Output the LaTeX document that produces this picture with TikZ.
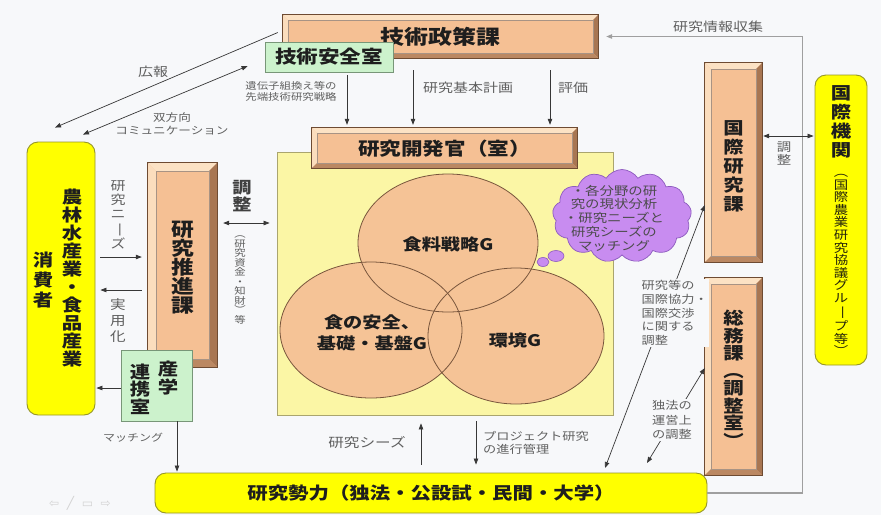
\documentclass[tikz,border=0pt]{standalone}
\usepackage{fontspec}
\usepackage{graphicx}
\setmainfont[FakeStretch=1.2]{Noto Sans CJK JP}
\newfontfamily\symf{DejaVu Sans}
\usetikzlibrary{shapes.symbols,arrows.meta,calc}
\definecolor{bg}{RGB}{247,248,250}
\definecolor{peach}{RGB}{245,192,148}
\definecolor{bevL}{RGB}{252,226,196}
\definecolor{bevD}{RGB}{168,118,82}
\definecolor{bevE}{RGB}{110,75,50}
\definecolor{grn}{RGB}{204,242,204}
\definecolor{grnE}{RGB}{120,150,120}
\definecolor{yel}{RGB}{255,255,0}
\definecolor{yelE}{RGB}{150,150,40}
\definecolor{panelc}{RGB}{251,246,165}
\definecolor{panelE}{RGB}{170,165,110}
\definecolor{circ}{RGB}{245,195,150}
\definecolor{circE}{RGB}{120,85,60}
\definecolor{cloudc}{RGB}{200,140,240}
\definecolor{cloudE}{RGB}{140,90,190}
\definecolor{lbl}{RGB}{95,95,95}
\definecolor{ln}{RGB}{55,55,55}
\definecolor{txt}{RGB}{30,30,30}
\newcommand\bevel[2]{%
 \fill[bevL] (#1.north west) -- (#1.north east) -- ([shift={(-#2,#2)}]#1.north east) -- ([shift={(#2,#2)}]#1.north west) -- cycle;
 \fill[bevL!85!peach] (#1.north west) -- ([shift={(#2,#2)}]#1.north west) -- ([shift={(#2,-#2)}]#1.south west) -- (#1.south west) -- cycle;
 \fill[bevD] (#1.north east) -- (#1.south east) -- ([shift={(-#2,-#2)}]#1.south east) -- ([shift={(-#2,#2)}]#1.north east) -- cycle;
 \fill[bevD!75!peach] (#1.south west) -- (#1.south east) -- ([shift={(-#2,-#2)}]#1.south east) -- ([shift={(#2,-#2)}]#1.south west) -- cycle;
 \draw[bevE, line width=0.9] (#1.north west) rectangle (#1.south east);
 \draw[bevE!60, line width=0.4] ([shift={(#2,#2)}]#1.north west) rectangle ([shift={(-#2,-#2)}]#1.south east);
}
\newcommand\vbar{\rotatebox[origin=c]{-90}{ー}}
\begin{document}
\begin{tikzpicture}[x=1pt,y=-1pt,
  bev/.style={draw=bevE, fill=peach, inner sep=0},
  btxt/.style={text=txt, inner sep=0, align=center, font=\bfseries\fontsize{#1}{#1}\selectfont},
  vtxt/.style 2 args={text=txt, inner sep=0, align=center, font=\bfseries\fontsize{#1}{#2}\selectfont},
  grnbox/.style={draw=grnE, fill=grn, line width=0.8, inner sep=0},
  ybox/.style={draw=yelE, fill=yel, line width=0.9, rounded corners=11pt, inner sep=0},
  vlab/.style 2 args={text=lbl, inner sep=0, align=center, font=\fontsize{#1}{#2}\selectfont},
  lab/.style={vlab={#1}{14}},
  arr/.style={draw=ln, line width=0.7, -{Triangle[length=6pt,width=4.5pt]}},
  darr/.style={draw=ln, line width=0.7, {Triangle[length=6pt,width=4.5pt]}-{Triangle[length=6pt,width=4.5pt]}},
  garr/.style={draw=gray!75, line width=1.1, -{Triangle[length=6pt,width=4.5pt]}}
]
\useasboundingbox (0,0) rectangle (881,515);
\fill[bg] (0,0) rectangle (881,515);

% ---- top policy boxes
\node[bev, minimum width=315, minimum height=43] (gs) at (440.5,36.5) {};
\bevel{gs}{5}
\node[btxt=20] (gst) at (440.5,37) {技術政策課};
\node[grnbox, minimum width=128, minimum height=30, btxt=18] (anz) at (329,57) {技術安全室};

% ---- central panel
\node[draw=panelE, fill=panelc, line width=0.8, minimum width=336, minimum height=263, inner sep=0] (panel) at (445,283.5) {};
\fill[circ] (448,243) ellipse [x radius=90pt, y radius=69pt];
\fill[circ] (371,330) ellipse [x radius=91pt, y radius=68pt];
\fill[circ] (516,336) ellipse [x radius=88pt, y radius=68pt];
\draw[circE, line width=0.8] (448,243) ellipse [x radius=90pt, y radius=69pt];
\draw[circE, line width=0.8] (371,330) ellipse [x radius=91pt, y radius=68pt];
\draw[circE, line width=0.8] (516,336) ellipse [x radius=88pt, y radius=68pt];
\node[vtxt={16}{21}] (g1) at (448,244) {食料戦略G};
\node[vtxt={16}{21}] (g2) at (372,333) {食の安全、\\基礎・基盤G};
\node[vtxt={16}{21}] (g3) at (515,340) {環境G};

\node[bev, minimum width=265, minimum height=40] (kk) at (444.5,148) {};
\bevel{kk}{5}
\node[btxt=18] (kkt) at (444.5,148.5) {研究開発官（室）};

% cloud
\node[cloud, cloud puffs=13, cloud puff arc=115, aspect=1.5, draw=cloudE, fill=cloudc, line width=0.7, minimum width=139, minimum height=93, inner sep=0] (cl) at (622,216) {};
\fill[cloudc, draw=cloudE, line width=0.6] (556,256) ellipse [x radius=8pt, y radius=5.5pt];
\fill[cloudc, draw=cloudE, line width=0.6] (543,262) ellipse [x radius=6pt, y radius=4.5pt];
\node[text=txt!80, inner sep=0, align=center, font=\fontsize{12}{13.8}\selectfont] (clt) at (614,218) {・各分野の研\\究の現状分析\\・研究ニーズと\\研究シーズの\\マッチング};

% ---- right side
\node[bev, minimum width=57, minimum height=199] (ks) at (733.5,162.5) {};
\bevel{ks}{6}
\node[vtxt={17}{19}] (kst) at (733.5,166) {国\\際\\研\\究\\課};
\node[bev, minimum width=57, minimum height=197] (sm) at (733.5,376.5) {};
\bevel{sm}{6}
\node[vtxt={17}{17.5}] (smt) at (733.5,378.5) {総\\務\\課\\︵\\調\\整\\室\\︶};
\node[ybox, minimum width=52, minimum height=290] (kikan) at (841,220) {};
\node[vtxt={17}{19}] (kit) at (841,122) {国\\際\\機\\関};
\node[text=black!75!yelE, inner sep=0, align=center, font=\fontsize{12}{12.6}\selectfont] (kit2) at (841,265) {︵\\国\\際\\農\\業\\研\\究\\協\\議\\グ\\ル\\\vbar\\プ\\等\\︶};

% ---- bottom
\node[ybox, minimum width=552, minimum height=40, btxt=17] (sei) at (431,493) {研究勢力（独法・公設試・民間・大学）};

% ---- left side
\node[ybox, minimum width=68, minimum height=273] (nou) at (61,278.5) {};
\node[vtxt={17}{18}] (nout) at (72,278.5) {農\\林\\水\\産\\業\\・\\食\\品\\産\\業};
\node[vtxt={17}{20}] (nout2) at (43,280) {消\\費\\者};
\node[bev, minimum width=69, minimum height=204] (sui) at (182.5,265) {};
\bevel{sui}{8}
\node[vtxt={19}{19}] (suit) at (182.5,267.5) {研\\究\\推\\進\\課};
\node[grnbox, minimum width=71, minimum height=71] (sangaku) at (156.5,385.5) {};
\node[vtxt={17}{17.5}] (sgt1) at (140,389) {連\\携\\室};
\node[vtxt={17}{17.5}] (sgt2) at (168,378) {産\\学};

% ---- connectors top
\draw[arr, shorten >=3pt] (347,75) -- (347,0 |- kk.north);
\draw[arr, shorten >=3pt] (413,70) -- (413,0 |- kk.north);
\draw[arr, shorten >=3pt] (550,70) -- (550,0 |- kk.north);
\node[vlab={9.5}{11}] (l1) at (291,91.5) {遺伝子組換え等の\\先端技術研究戦略};
\node[lab=12.5, anchor=west] (l2) at (423,88) {研究基本計画};
\node[lab=12.5, anchor=west] (l3) at (558,88) {評価};
\draw[arr] ([shift={(-5,-4)}]gs.west) -- ([shift={(-6,-14)}]nou.north);
\draw[darr] ([shift={(-17,9)}]anz.west) -- ([shift={(22,-7)}]nou.north);
\node[lab=12.5] (l4) at (153,72) {広報};
\node[vlab={10.5}{12.5}] (l5) at (172,124) {双方向\\コミュニケーション};

% research info line
\draw[garr, shorten >=8pt] (sei.east) -- ++(95,0) |- (gs.east);
\node[lab=12.5] (l6) at (718,27) {研究情報収集};
\draw[darr, shorten >=1pt, shorten <=1pt] (ks.east |- 0,136) -- (kikan.west |- 0,136);
\node[vlab={12}{13}] (l7) at (784,153.5) {調\\整};

% left connectors
\draw[arr, shorten <=5pt, shorten >=6pt] (nou.east |- 0,257) -- (sui.west |- 0,257);
\draw[arr, shorten <=6pt, shorten >=5pt] (sui.west |- 0,290) -- (nou.east |- 0,290);
\node[vlab={12.5}{14}] (l8) at (118,215) {研\\究\\ニ\\\vbar\\ズ};
\node[vlab={13}{16}] (l9) at (118,321) {実\\用\\化};
\draw[darr, shorten <=6pt, shorten >=7pt] (sui.east |- 0,223) -- (panel.west |- 0,223);
\node[text=txt!85, inner sep=0, align=center, font=\bfseries\fontsize{16}{17}\selectfont] (l10) at (242,196.5) {調\\整};
\node[vlab={9.5}{9.5}] (l11) at (240,280) {︵\\研\\究\\資\\金\\・\\知\\財\\︶\\等};
\draw[arr, shorten >=1pt] (sangaku.west |- 0,388) -- (nou.east |- 0,388);
\draw[arr, shorten >=1pt] (sangaku.south -| 177,0) -- (sei.north -| 177,0);
\node[lab=10] (l12) at (133,438) {マッチング};

% bottom connectors
\draw[arr, shorten <=8pt, shorten >=8pt] (sei.north -| 421,0) -- (panel.south -| 421,0);
\draw[arr, shorten <=6pt, shorten >=8pt] (panel.south -| 476,0) -- (sei.north -| 476,0);
\node[lab=13] (l13) at (367,443) {研究シーズ};
\node[vlab={11}{13}, anchor=west, align=left] (l14) at (483,443) {プロジェクト研究\\の進行管理};

% right connectors
\coordinate (p1) at (605,468);
\coordinate (p2) at (647,463);
\draw[darr] (ks.west |- 0,205) -- (p1);
\draw[darr] (sm.west |- 0,368) -- (p2);
\node[vlab={11}{13.6}, anchor=west, align=left, fill=bg, inner sep=1.5pt] (l15) at (640,313) {研究等の\\国際協力・\\国際交渉\\に関する\\調整};
\node[vlab={11}{14.5}, fill=bg, inner sep=1.5pt] (l16) at (672,420) {独法の\\運営上\\の調整};

% nav icons
\node[text=gray!35, inner sep=0, font=\symf\fontsize{12}{12}\selectfont] (nav) at (80,503) {⇦\ \ ╱\ \ ▭\ \ ⇨};
\end{tikzpicture}
\end{document}
